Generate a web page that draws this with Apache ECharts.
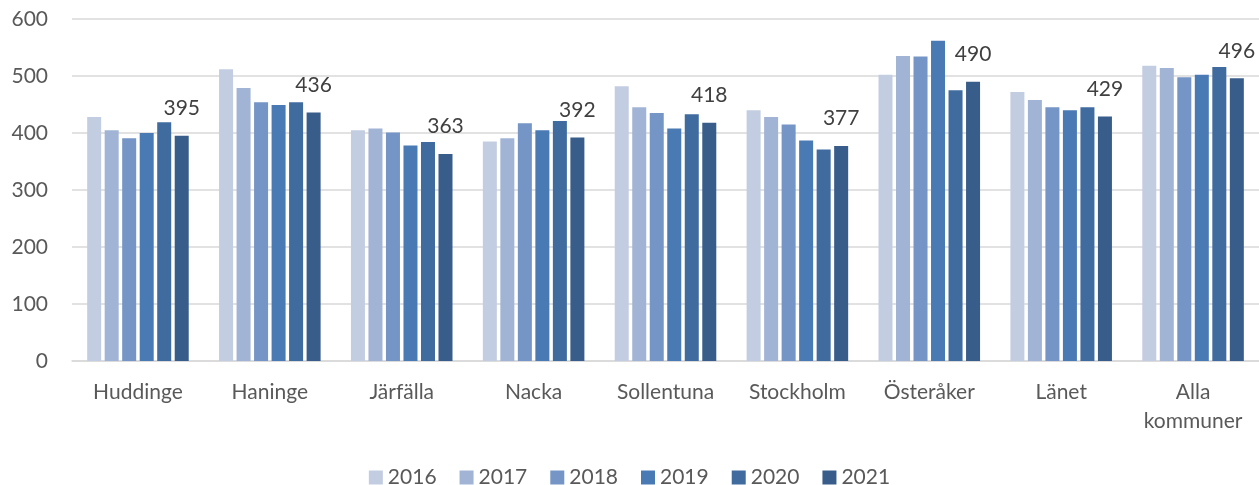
<!DOCTYPE html>
<html>
<head>
<meta charset="utf-8">
<script src="https://cdn.jsdelivr.net/npm/echarts@6/dist/echarts.min.js"></script>
<style>
    html, body {margin: 0; padding: 0; background: #fff;}
    #charts {width: 1259px; height: 485px;}
</style>
</head>
<body>
<div id="charts"></div>
<script>

    var categories = ['Huddinge', 'Haninge', 'Järfälla', 'Nacka', 'Sollentuna', 'Stockholm', 'Österåker', 'Länet', 'Alla\nkommuner'];
    var years = ['2016', '2017', '2018', '2019', '2020', '2021'];
    var yearColors = ['#c3cde2', '#a2b4d5', '#7495c5', '#4a7ab4', '#3f6b9f', '#385d8a'];

    var v2016 = [428, 512, 405, 385, 482, 440, 502, 472, 518];
    var v2017 = [405, 479, 408, 391, 445, 428, 535, 458, 514];
    var v2018 = [391, 454, 401, 417, 435, 415, 534, 445, 498];
    var v2019 = [400, 449, 378, 405, 408, 387, 562, 440, 502];
    var v2020 = [419, 454, 384, 421, 433, 371, 475, 445, 516];
    var v2021 = [395, 436, 363, 392, 418, 377, 490, 429, 496];

    var yTicks = [0, 100, 200, 300, 400, 500, 600];

    var font = 'Lato, "Liberation Sans", sans-serif';

    /**
     * 图表组件对象
     *
     * @type {Object}
     */
    var chart = echarts.init(document.getElementById('charts'));

    var allValues = [v2016, v2017, v2018, v2019, v2020, v2021];

    var series = years.map(function (year, i) {
        var s = {
            name: year,
            type: 'bar',
            data: allValues[i],
            barGap: '25%',
            barCategoryGap: '23%',
            itemStyle: {color: yearColors[i]}
        };
        // 只有最后一年显示数值
        if (i === years.length - 1) {
            s.label = {
                show: true,
                position: 'top',
                distance: 17,
                color: '#404040',
                fontSize: 21,
                fontFamily: font
            };
        }
        return s;
    });

    var option = {
        animation: false,
        textStyle: {fontFamily: font},
        grid: {
            left: 72,
            right: 0,
            top: 19,
            bottom: 124
        },
        legend: {
            top: 467,
            left: 'center',
            padding: 0,
            data: years,
            icon: 'rect',
            itemWidth: 14,
            itemHeight: 14,
            itemGap: 23,
            textStyle: {color: '#595959', fontSize: 21, fontFamily: font}
        },
        xAxis: {
            type: 'category',
            data: categories,
            axisTick: {show: false},
            axisLine: {lineStyle: {color: '#d9d9d9', width: 1.5}},
            axisLabel: {
                color: '#595959',
                fontSize: 21,
                margin: 17,
                lineHeight: 29,
                interval: 0,
                fontFamily: font
            }
        },
        yAxis: {
            type: 'value',
            min: yTicks[0],
            max: yTicks[yTicks.length - 1],
            interval: 100,
            axisLine: {show: false},
            axisTick: {show: false},
            splitLine: {lineStyle: {color: '#d9d9d9', width: 1.5}},
            axisLabel: {
                color: '#595959',
                fontSize: 21,
                margin: 24,
                fontFamily: font
            }
        },
        series: series
    };

    chart.setOption(option);

</script>
</body>
</html>
